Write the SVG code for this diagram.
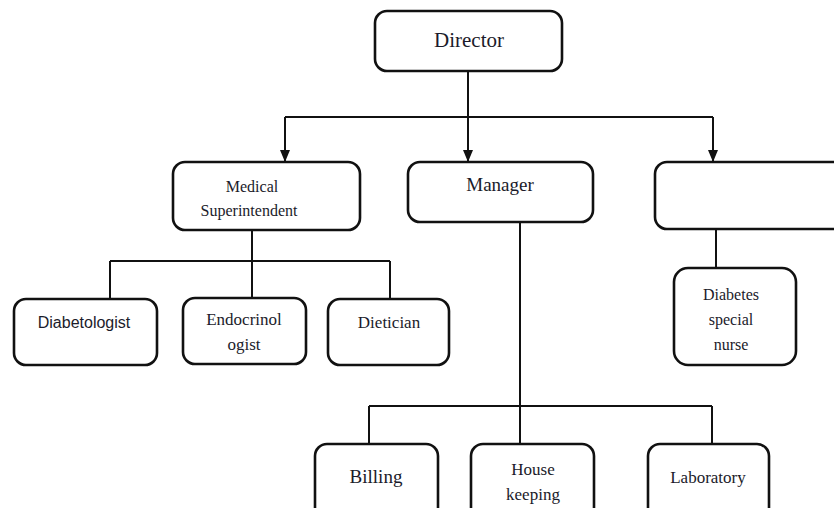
<svg xmlns="http://www.w3.org/2000/svg" width="834" height="508" viewBox="0 0 834 508">
<defs>
<marker id="arr" markerWidth="12" markerHeight="10" refX="11" refY="5" orient="auto" markerUnits="userSpaceOnUse" viewBox="0 0 12 10">
<path d="M0,0 L12,5 L0,10 Z" fill="#111"/>
</marker>
<style>
.box{fill:#fff;stroke:#111;stroke-width:2.6}
.ln{fill:none;stroke:#111;stroke-width:2}
.t{font-family:"Liberation Serif","Times New Roman",serif;fill:#1b1b2a;text-anchor:middle}
.s{font-family:"Liberation Sans",Arial,sans-serif;fill:#1b1b2a;text-anchor:middle}
</style>
</defs>
<rect width="834" height="508" fill="#fff"/>
<g id="connectors">
<path class="ln" d="M468,71 V161" marker-end="url(#arr)"/>
<path class="ln" d="M285,117 H713"/>
<path class="ln" d="M285,117 V161" marker-end="url(#arr)"/>
<path class="ln" d="M713,117 V161" marker-end="url(#arr)"/>
<path class="ln" d="M252,230 V299 M110,261 H390 M110,261 V299 M390,261 V299"/>
<path class="ln" d="M716,229 V268"/>
<path class="ln" d="M520,222 V444 M369,406 H712 M369,406 V444 M712,406 V444"/>
</g>
<g id="director">
<rect class="box" x="375" y="11" width="187" height="60" rx="12"/>
<text class="t" x="469" y="47" font-size="21">Director</text>
</g>
<g id="medical-superintendent">
<rect class="box" x="173" y="162" width="187" height="68" rx="12"/>
<text class="t" x="252" y="192" font-size="16">Medical</text>
<text class="t" x="249" y="216" font-size="16">Superintendent</text>
</g>
<g id="manager">
<rect class="box" x="408" y="162" width="185" height="60" rx="12"/>
<text class="t" x="500" y="191" font-size="19">Manager</text>
</g>
<g id="blank">
<rect class="box" x="655" y="162" width="200" height="67" rx="12"/>
</g>
<g id="diabetologist">
<rect class="box" x="14" y="299" width="143" height="66" rx="12"/>
<text class="s" x="84" y="328" font-size="16">Diabetologist</text>
</g>
<g id="endocrinologist">
<rect class="box" x="183" y="298" width="123" height="66" rx="12"/>
<text class="t" x="244" y="325" font-size="17">Endocrinol</text>
<text class="t" x="244" y="350" font-size="17">ogist</text>
</g>
<g id="dietician">
<rect class="box" x="328" y="299" width="121" height="66" rx="12"/>
<text class="t" x="389" y="328" font-size="17">Dietician</text>
</g>
<g id="diabetes-nurse">
<rect class="box" x="674" y="268" width="122" height="97" rx="14"/>
<text class="t" x="731" y="300" font-size="16">Diabetes</text>
<text class="t" x="731" y="325" font-size="16">special</text>
<text class="t" x="731" y="350" font-size="16">nurse</text>
</g>
<g id="billing">
<rect class="box" x="315" y="444" width="123" height="80" rx="12"/>
<text class="t" x="376" y="483" font-size="19">Billing</text>
</g>
<g id="house-keeping">
<rect class="box" x="471" y="444" width="123" height="80" rx="12"/>
<text class="t" x="533" y="475" font-size="17">House</text>
<text class="t" x="533" y="500" font-size="17">keeping</text>
</g>
<g id="laboratory">
<rect class="box" x="648" y="444" width="121" height="80" rx="12"/>
<text class="t" x="708" y="483" font-size="17">Laboratory</text>
</g>
</svg>
